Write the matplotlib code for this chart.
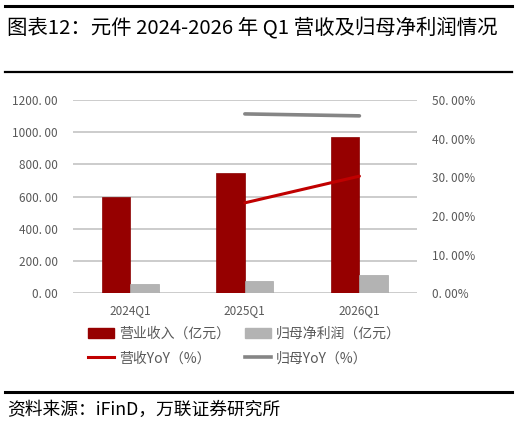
import matplotlib
matplotlib.use("Agg")
import matplotlib.pyplot as plt
import numpy as np
from matplotlib.patches import Patch
from matplotlib.lines import Line2D
from matplotlib.ticker import FuncFormatter, MultipleLocator

plt.rcParams['font.family'] = ['Noto Sans CJK SC', 'DejaVu Sans']

categories = ['2024Q1', '2025Q1', '2026Q1']
revenue = [600, 745, 972]          # 营业收入（亿元）
net_profit = [56, 78, 112]         # 归母净利润（亿元）
revenue_yoy = [np.nan, 23.4, 30.3] # 营收YoY（%）
net_yoy = [np.nan, 46.4, 45.9]     # 归母YoY（%）

W, H = 518, 424
fig = plt.figure(figsize=(W/100, H/100), dpi=100)

def fx(px): return px / W
def fy(py): return 1 - py / H

# frame lines
fig.add_artist(Line2D([fx(5), fx(512)], [fy(6), fy(6)], color='black', lw=2.2))
fig.add_artist(Line2D([fx(5), fx(512)], [fy(72), fy(72)], color='black', lw=1.6))
fig.add_artist(Line2D([fx(5), fx(512)], [fy(392), fy(392)], color='black', lw=2.2))

fig.text(fx(7), fy(27), '图表12：元件 2024-2026 年 Q1 营收及归母净利润情况',
         fontsize=14.7, va='center', ha='left', color='black')
fig.text(fx(7), fy(410), '资料来源：iFinD，万联证券研究所',
         fontsize=12.8, va='center', ha='left', color='black')

ax = fig.add_axes([fx(73), fy(293.3), fx(416.7) - fx(73), fy(100) - fy(293.3)])
x = np.arange(len(categories))
bw = 0.25
red = '#960000'
grey = '#B3B3B3'
ax.bar(x - bw/2, revenue, width=bw, color=red, edgecolor='#8a0000', lw=0.5, zorder=3)
ax.bar(x + bw/2, net_profit, width=bw, color=grey, edgecolor='#a8a8a8', lw=0.5, zorder=3)
ax.set_xlim(-0.5, 2.5)
ax.set_ylim(0, 1200)
ax.yaxis.set_major_locator(MultipleLocator(200))
ax.yaxis.set_major_formatter(FuncFormatter(lambda v, p: f'{v:.0f}. 00'))
ax.set_xticks(x)
ax.set_xticklabels(categories)
ax.grid(axis='y', color='#BFBFBF', lw=1.1, zorder=0)
ax.set_axisbelow(True)
for s in ax.spines.values():
    s.set_visible(False)
ax.tick_params(axis='both', length=0, labelsize=8.5, colors='#595959')
ax.tick_params(axis='y', pad=11)
ax.tick_params(axis='x', pad=8)

ax2 = ax.twinx()
ax2.set_ylim(0, 50)
ax2.yaxis.set_major_locator(MultipleLocator(10))
ax2.yaxis.set_major_formatter(FuncFormatter(lambda v, p: f'{v:.0f}. 00%'))
for s in ax2.spines.values():
    s.set_visible(False)
ax2.tick_params(axis='y', length=0, labelsize=8.5, colors='#595959', pad=11)
ax2.plot(x, revenue_yoy, color='#C00000', lw=2.2, zorder=4, solid_capstyle='round')
ax2.plot(x, net_yoy, color='#858585', lw=2.6, zorder=4, solid_capstyle='round')

h_rev = Patch(facecolor=red, edgecolor=red)
h_net = Patch(facecolor=grey, edgecolor=grey)
h_ryoy = Line2D([], [], color='#C00000', lw=2.2)
h_nyoy = Line2D([], [], color='#858585', lw=2.6)
handles = [h_rev, h_ryoy, h_net, h_nyoy]
labels = ['营业收入（亿元）', '营收YoY（%）', '归母净利润（亿元）', '归母YoY（%）']
leg = fig.legend(handles, labels, ncol=2, loc='upper left',
                 bbox_to_anchor=(fx(88), fy(327)), frameon=False,
                 fontsize=10, handlelength=1.9, handleheight=0.75, handletextpad=0.35,
                 columnspacing=1.05, labelspacing=0.75, borderaxespad=0, borderpad=0)
for t in leg.get_texts():
    t.set_color('#595959')

fig.savefig('out.png', dpi=100)
